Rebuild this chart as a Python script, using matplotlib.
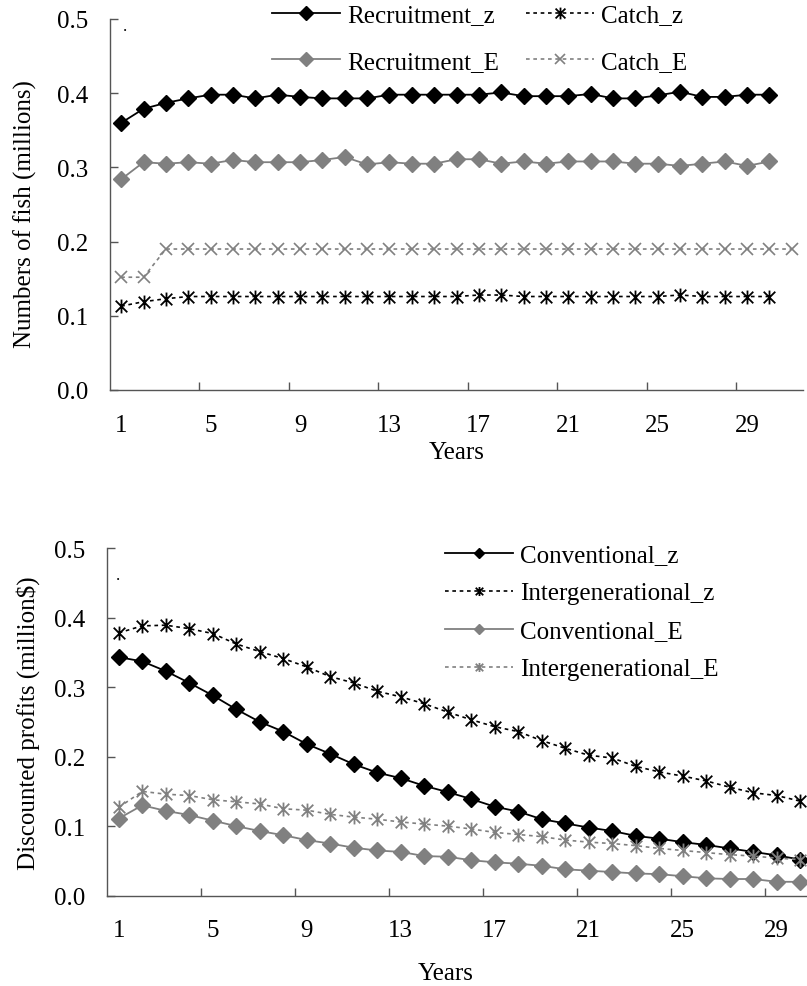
import numpy as np
import matplotlib
matplotlib.use('Agg')
import matplotlib.pyplot as plt
from matplotlib.path import Path

plt.rcParams['font.family'] = ['Liberation Serif', 'DejaVu Serif']
plt.rcParams['font.size'] = 18

# ---- data (top: numbers of fish, millions) ----
years_top = list(range(1, 31))
years_catchE = list(range(1, 32))
recruit_z = [0.360, 0.379, 0.387, 0.393, 0.398, 0.398, 0.393, 0.398, 0.395, 0.393,
             0.393, 0.393, 0.398, 0.398, 0.398, 0.398, 0.398, 0.401, 0.396, 0.396,
             0.396, 0.399, 0.393, 0.393, 0.397, 0.402, 0.395, 0.395, 0.398, 0.398]
catch_z = [0.113, 0.119, 0.123, 0.126, 0.126, 0.126, 0.126, 0.126, 0.126, 0.126,
           0.126, 0.126, 0.126, 0.126, 0.126, 0.126, 0.128, 0.128, 0.126, 0.126,
           0.126, 0.126, 0.126, 0.126, 0.126, 0.128, 0.126, 0.126, 0.126, 0.126]
recruit_E = [0.284, 0.307, 0.305, 0.307, 0.305, 0.310, 0.307, 0.307, 0.307, 0.310,
             0.314, 0.304, 0.307, 0.305, 0.305, 0.311, 0.311, 0.305, 0.308, 0.305,
             0.308, 0.308, 0.308, 0.305, 0.305, 0.302, 0.305, 0.308, 0.302, 0.308]
catch_E = [0.152, 0.152, 0.190, 0.190, 0.190, 0.190, 0.190, 0.190, 0.190, 0.190,
           0.190, 0.190, 0.190, 0.190, 0.190, 0.190, 0.190, 0.190, 0.190, 0.190,
           0.190, 0.190, 0.190, 0.190, 0.190, 0.190, 0.190, 0.190, 0.190, 0.190,
           0.190]

# ---- data (bottom: discounted profits, million$) ----
years_bot = list(range(1, 31))
conv_z = [0.343, 0.337, 0.323, 0.306, 0.288, 0.268, 0.250, 0.236, 0.218, 0.204,
          0.189, 0.177, 0.169, 0.158, 0.149, 0.139, 0.128, 0.121, 0.110, 0.104,
          0.098, 0.093, 0.086, 0.082, 0.077, 0.073, 0.068, 0.063, 0.058, 0.052]
intergen_z = [0.378, 0.388, 0.389, 0.384, 0.377, 0.362, 0.351, 0.341, 0.329, 0.315,
              0.306, 0.294, 0.286, 0.276, 0.264, 0.253, 0.243, 0.236, 0.223, 0.212,
              0.202, 0.198, 0.186, 0.178, 0.172, 0.165, 0.156, 0.148, 0.144, 0.136]
conv_E = [0.111, 0.130, 0.122, 0.116, 0.108, 0.100, 0.093, 0.087, 0.080, 0.075,
          0.069, 0.065, 0.063, 0.057, 0.056, 0.051, 0.048, 0.046, 0.043, 0.038,
          0.036, 0.034, 0.032, 0.031, 0.028, 0.025, 0.024, 0.024, 0.020, 0.020]
intergen_E = [0.127, 0.150, 0.146, 0.144, 0.138, 0.135, 0.132, 0.125, 0.123, 0.117,
              0.113, 0.110, 0.106, 0.103, 0.100, 0.096, 0.091, 0.088, 0.085, 0.080,
              0.077, 0.075, 0.072, 0.068, 0.065, 0.062, 0.059, 0.057, 0.054, 0.052]

xlabels = [1, 5, 9, 13, 17, 21, 25, 29]
yticks = [0.0, 0.1, 0.2, 0.3, 0.4, 0.5]

# excel style asterisk: x with a vertical bar
star = Path([(-1, -1), (1, 1), (-1, 1), (1, -1), (0, -1.2), (0, 1.2)],
            [Path.MOVETO, Path.LINETO, Path.MOVETO, Path.LINETO, Path.MOVETO, Path.LINETO])

BLACK = 'black'
GREY = '#808080'
AXC = '#555555'
dash = (0, (2.2, 2.2))


def style_axis(ax, xmax):
    ax.set_ylim(0, 0.5)
    ax.set_xlim(0.5, xmax)
    ax.set_yticks(yticks)
    ax.set_yticklabels(['%.1f' % v for v in yticks])
    ax.set_xticks(xlabels)
    ax.set_xticks(np.arange(4.5, 29, 4), minor=True)
    ax.tick_params(axis='x', which='major', length=0, pad=17)
    ax.tick_params(axis='x', which='minor', direction='in', length=6, color=AXC, width=1)
    ax.tick_params(axis='y', direction='in', length=6, color=AXC, width=1, pad=16)
    for s in ['top', 'right']:
        ax.spines[s].set_visible(False)
    for s in ['left', 'bottom']:
        ax.spines[s].set_color(AXC)
        ax.spines[s].set_linewidth(1)


fig = plt.figure(figsize=(8.07, 9.87), dpi=100)

# ---------- top chart ----------
ax1 = fig.add_axes([110/807, 1-391/987, 693/807, 371/987])
ax1.plot(years_top, recruit_z, color=BLACK, lw=1.3, marker='D', ms=8, label='Recruitment_z')
ax1.plot(years_top, recruit_E, color=GREY, lw=1.3, marker='D', ms=8, label='Recruitment_E')
ax1.plot(years_top, catch_z, color=BLACK, lw=1.2, ls=dash, marker=star, ms=10,
         mew=1.3, mec=BLACK, label='Catch_z')
ax1.plot(years_catchE, catch_E, color=GREY, lw=1.2, ls=dash, marker='x', ms=9,
         mew=1.2, mec=GREY, label='Catch_E')
style_axis(ax1, 31.5)
ax1.set_xlabel('Years', labelpad=4)
ax1.set_ylabel('Numbers of fish (millions)')
ax1.yaxis.set_label_coords(-0.105, 0.477)
ax1.text(0.018, 0.97, '.', transform=ax1.transAxes, fontsize=12)
h, l = ax1.get_legend_handles_labels()
fig.legend([h[0], h[1], h[2], h[3]], [l[0], l[1], l[2], l[3]], ncol=2,
           loc='upper left', bbox_to_anchor=(272/807, 1-5/987), frameon=False,
           borderpad=0, borderaxespad=0, handlelength=2.7, handletextpad=0.3,
           columnspacing=1.1, labelspacing=0.95, markerscale=0.85)

# ---------- bottom chart ----------
ax2 = fig.add_axes([107/807, 1-896.7/987, 705/807, 347.7/987])
ax2.plot(years_bot, conv_z, color=BLACK, lw=1.3, marker='D', ms=8, label='Conventional_z')
ax2.plot(years_bot, intergen_z, color=BLACK, lw=1.2, ls=dash, marker=star, ms=10,
         mew=1.3, mec=BLACK, label='Intergenerational_z')
ax2.plot(years_bot, conv_E, color=GREY, lw=1.3, marker='D', ms=8, label='Conventional_E')
ax2.plot(years_bot, intergen_E, color=GREY, lw=1.2, ls=dash, marker=star, ms=10,
         mew=1.3, mec=GREY, label='Intergenerational_E')
style_axis(ax2, 30.5)
ax2.set_xlabel('Years', labelpad=4)
ax2.xaxis.set_label_coords(0.48, -0.19)
ax2.set_ylabel('Discounted profits (million$)', labelpad=10)
ax2.text(0.012, 0.91, '.', transform=ax2.transAxes, fontsize=12)
fig.legend(*ax2.get_legend_handles_labels(), ncol=1,
           loc='upper left', bbox_to_anchor=(445/807, 1-545/987), frameon=False,
           borderpad=0, borderaxespad=0, handlelength=2.7, handletextpad=0.3,
           labelspacing=0.62, markerscale=0.65)

fig.savefig('out.png', dpi=100)
